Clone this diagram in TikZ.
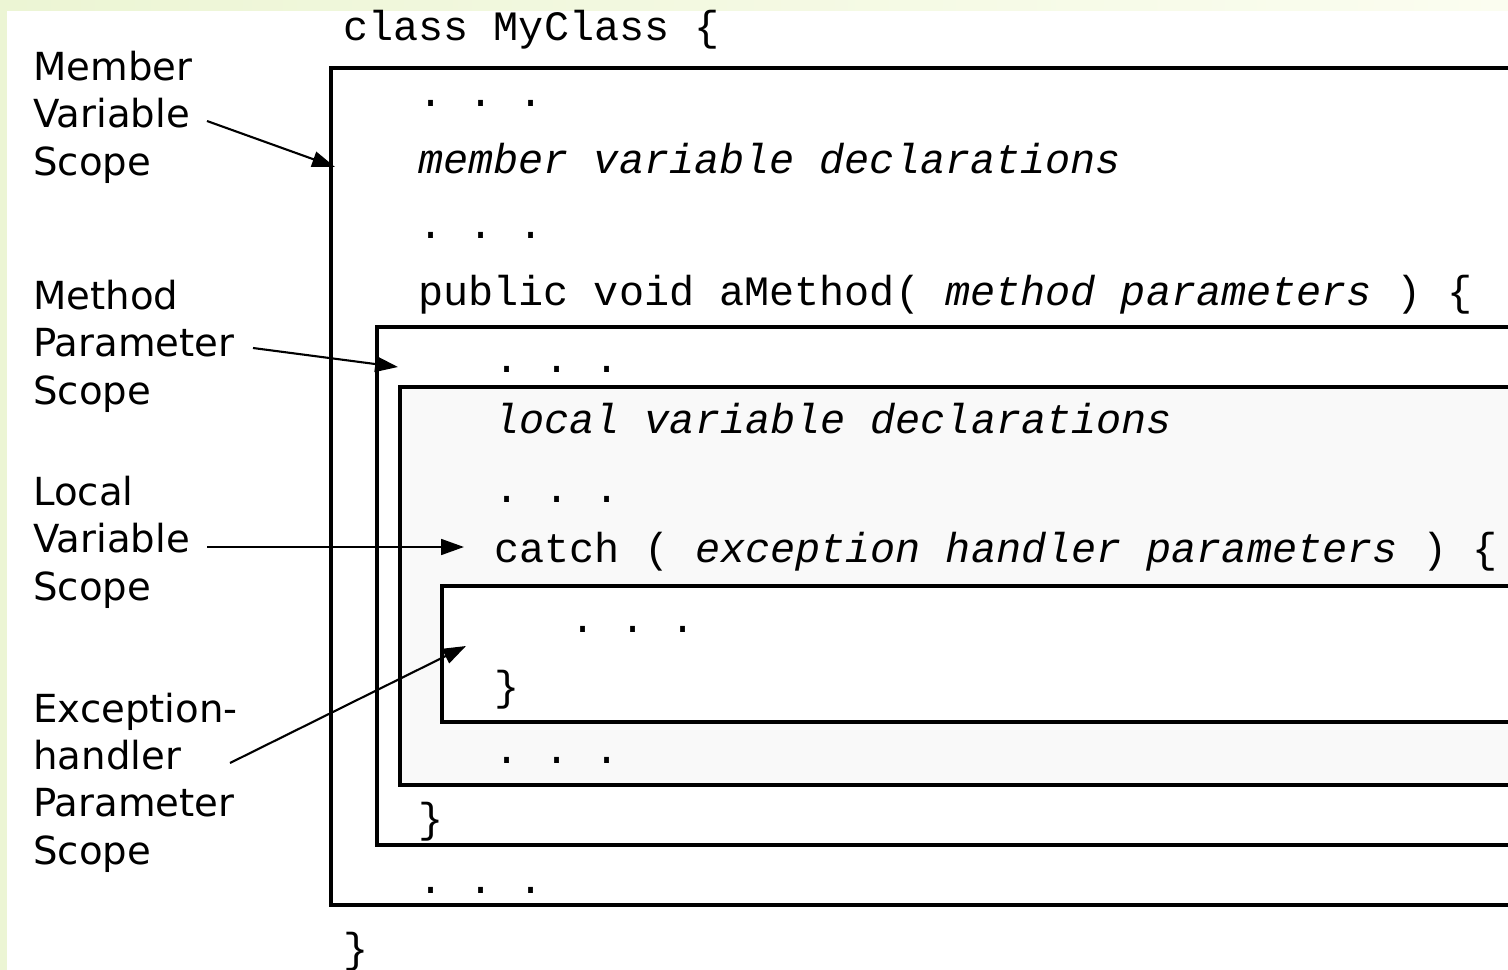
\documentclass[tikz,border=0pt]{standalone}
\usepackage{fontspec}
\newfontfamily\codefont{Liberation Mono}
\newfontfamily\lblfont{DejaVu Sans}
\usetikzlibrary{arrows.meta}

\definecolor{stripgreen}{RGB}{236,245,212}
\definecolor{stripfade}{RGB}{251,253,240}
\definecolor{localgray}{RGB}{249,249,249}

\tikzset{
  code/.style={anchor=base west, inner sep=0pt,
               font=\codefont\fontsize{23.8}{28}\selectfont\frenchspacing},
  scopelbl/.style={anchor=base west, inner sep=0pt, align=left,
               font=\lblfont\fontsize{22}{26.9}\selectfont},
  scopebox/.style={line width=2.2pt},
  pointer/.style={line width=1.2pt, -{Triangle[length=13pt,width=9pt]}}
}

\begin{document}
\begin{tikzpicture}[x=0.02cm, y=-0.02cm]
  \clip (0,0) rectangle (1508,970);
  \fill[white] (0,0) rectangle (1508,970);
  \fill[left color=stripgreen, right color=stripfade] (0,0) rectangle (1508,10);
  \fill[stripgreen] (0,0) rectangle (7,970);

  \draw[scopebox] (331,68) rectangle (1540,905);
  \draw[scopebox] (377,327) rectangle (1540,845);
  \draw[scopebox, fill=localgray] (400,387) rectangle (1540,785);
  \draw[scopebox, fill=white] (442,586) rectangle (1540,722);

  \node at (343,40) [code] (clshead) {class MyClass \{};
  \node at (418,106) [code] (dotsA) {. . .};
  \node at (418,173) [code] (memdecl) {\textit{member variable declarations}};
  \node at (418,238) [code] (dotsB) {. . .};
  \node at (418,305) [code] (methsig) {public void aMethod( \textit{method parameters} ) \{};
  \node at (494,372) [code] (dotsC) {. . .};
  \node at (494,433) [code] (locdecl) {\textit{local variable declarations}};
  \node at (494,502) [code] (dotsD) {. . .};
  \node at (494,562) [code] (catchsig) {catch ( \textit{exception handler parameters} ) \{};
  \node at (570,632) [code] (dotsE) {. . .};
  \node at (494,700) [code] (catchend) {\}};
  \node at (494,763) [code] (dotsF) {. . .};
  \node at (418,832) [code] (methend) {\}};
  \node at (418,893) [code] (dotsG) {. . .};
  \node at (343,962) [code] (clsend) {\}};

  \node at (33,175) [scopelbl] (memlbl) {Member\\Variable\\Scope};
  \node at (33,404) [scopelbl] (methlbl) {Method\\Parameter\\Scope};
  \node at (33,600) [scopelbl] (loclbl) {Local\\Variable\\Scope};
  \node at (33,864) [scopelbl] (exclbl) {Exception-\\handler\\Parameter\\Scope};

  \coordinate (memfrom) at (207,121);
  \coordinate (memtip) at (335,167);
  \coordinate (methfrom) at (253,348);
  \coordinate (methtip) at (398,367);
  \coordinate (locfrom) at (207,547);
  \coordinate (loctip) at (464,547);
  \coordinate (excfrom) at (230,763);
  \coordinate (exctip) at (466,646);

  \draw[pointer] (memfrom) -- (memtip);
  \draw[pointer] (methfrom) -- (methtip);
  \draw[pointer] (locfrom) -- (loctip);
  \draw[pointer] (excfrom) -- (exctip);
\end{tikzpicture}
\end{document}
